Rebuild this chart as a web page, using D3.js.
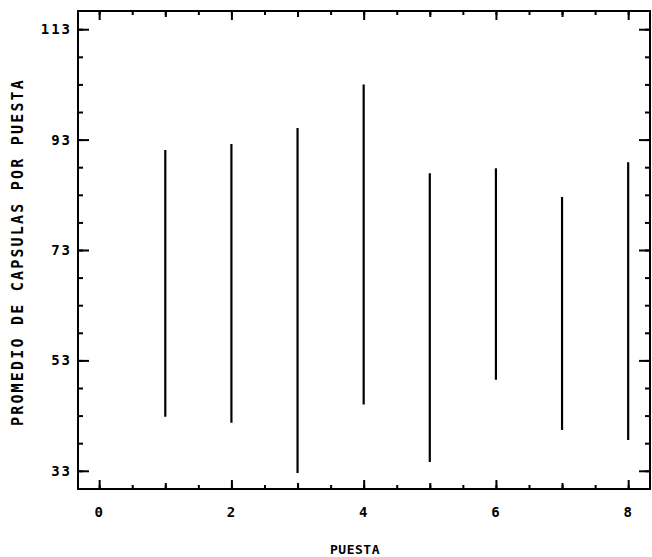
<!DOCTYPE html>
<html>
<head>
<meta charset="utf-8">
<script src="https://cdn.jsdelivr.net/npm/d3@7"></script>
<style>
  body { margin: 0; background: #fff; }
  text { font-family: "DejaVu Sans Mono", monospace; font-weight: bold; fill: #000; }
</style>
</head>
<body>
<div id="chart-area"></div>
<script>
// one vertical range line per "puesta"
var puesta = [1, 2, 3, 4, 5, 6, 7, 8];
var lowVals = [42.8, 41.7, 32.6, 45.0, 34.6, 49.5, 40.4, 38.6];
var highVals = [91.1, 92.2, 95.1, 103.0, 86.9, 87.8, 82.6, 88.9];

var xTicks = [0, 2, 4, 6, 8];
var yTicks = [33, 53, 73, 93, 113];

var margin = {left: 78, right: 2, top: 11, bottom: 68};
var width = 652 - margin.left - margin.right;
var height = 557 - margin.top - margin.bottom;

var svg = d3.select("#chart-area").append("svg")
    .attr("width", 652)
    .attr("height", 557);

var g = svg.append("g")
    .attr("transform", "translate(" + margin.left + "," + margin.top + ")");

var x = d3.scaleLinear().domain([-0.32, 8.33]).range([0, width]);
var y = d3.scaleLinear().domain([29.7, 116.3]).range([height, 0]);

var xMinor = d3.range(0, 8.01, 0.5);
var xMid = [1, 3, 5, 7];
var yMinor = d3.range(33, 114, 5);

function styleAxis(sel) {
    sel.select(".domain").remove();
    sel.selectAll("line").attr("stroke", "#000").attr("stroke-width", 2);
    sel.selectAll("text")
        .style("font-size", "14px")
        .attr("letter-spacing", "2px");
}

// bottom
g.append("g").attr("transform", "translate(0," + height + ")")
    .call(d3.axisBottom(x).tickValues(xMinor).tickSizeInner(-4).tickSizeOuter(0).tickFormat(""))
    .call(styleAxis);
g.append("g").attr("transform", "translate(0," + height + ")")
    .call(d3.axisBottom(x).tickValues(xMid).tickSizeInner(-6).tickSizeOuter(0).tickFormat(""))
    .call(styleAxis);
g.append("g").attr("transform", "translate(0," + height + ")")
    .call(d3.axisBottom(x).tickValues(xTicks).tickSizeInner(-9).tickSizeOuter(0).tickPadding(18))
    .call(styleAxis);

// top
g.append("g")
    .call(d3.axisTop(x).tickValues(xMinor).tickSizeInner(-4).tickSizeOuter(0).tickFormat(""))
    .call(styleAxis);
g.append("g")
    .call(d3.axisTop(x).tickValues(xMid).tickSizeInner(-6).tickSizeOuter(0).tickFormat(""))
    .call(styleAxis);
g.append("g")
    .call(d3.axisTop(x).tickValues(xTicks).tickSizeInner(-9).tickSizeOuter(0).tickFormat(""))
    .call(styleAxis);

// left
g.append("g")
    .call(d3.axisLeft(y).tickValues(yMinor).tickSizeInner(-5).tickSizeOuter(0).tickFormat(""))
    .call(styleAxis);
g.append("g")
    .call(d3.axisLeft(y).tickValues(yTicks).tickSizeInner(-11).tickSizeOuter(0).tickPadding(6))
    .call(styleAxis);

// right
g.append("g").attr("transform", "translate(" + width + ",0)")
    .call(d3.axisRight(y).tickValues(yMinor).tickSizeInner(-5).tickSizeOuter(0).tickFormat(""))
    .call(styleAxis);
g.append("g").attr("transform", "translate(" + width + ",0)")
    .call(d3.axisRight(y).tickValues(yTicks).tickSizeInner(-11).tickSizeOuter(0).tickFormat(""))
    .call(styleAxis);

// frame
g.append("rect")
    .attr("x", 0).attr("y", 0)
    .attr("width", width).attr("height", height)
    .attr("fill", "none")
    .attr("stroke", "#000")
    .attr("stroke-width", 2);

// range lines
g.selectAll(".rng")
    .data(puesta)
    .enter().append("line")
    .attr("class", "rng")
    .attr("x1", function(d) { return x(d); })
    .attr("x2", function(d) { return x(d); })
    .attr("y1", function(d, i) { return y(lowVals[i]); })
    .attr("y2", function(d, i) { return y(highVals[i]); })
    .attr("stroke", "#000")
    .attr("stroke-width", 2.2);

// titles
svg.append("text")
    .attr("x", 355)
    .attr("y", 554)
    .attr("text-anchor", "middle")
    .style("font-size", "13px")
    .attr("letter-spacing", "0.5px")
    .text("PUESTA");

svg.append("text")
    .attr("transform", "translate(23,252) rotate(-90)")
    .attr("text-anchor", "middle")
    .style("font-size", "15px")
    .attr("letter-spacing", "2.2px")
    .text("PROMEDIO DE CAPSULAS POR PUESTA");
</script>
</body>
</html>
